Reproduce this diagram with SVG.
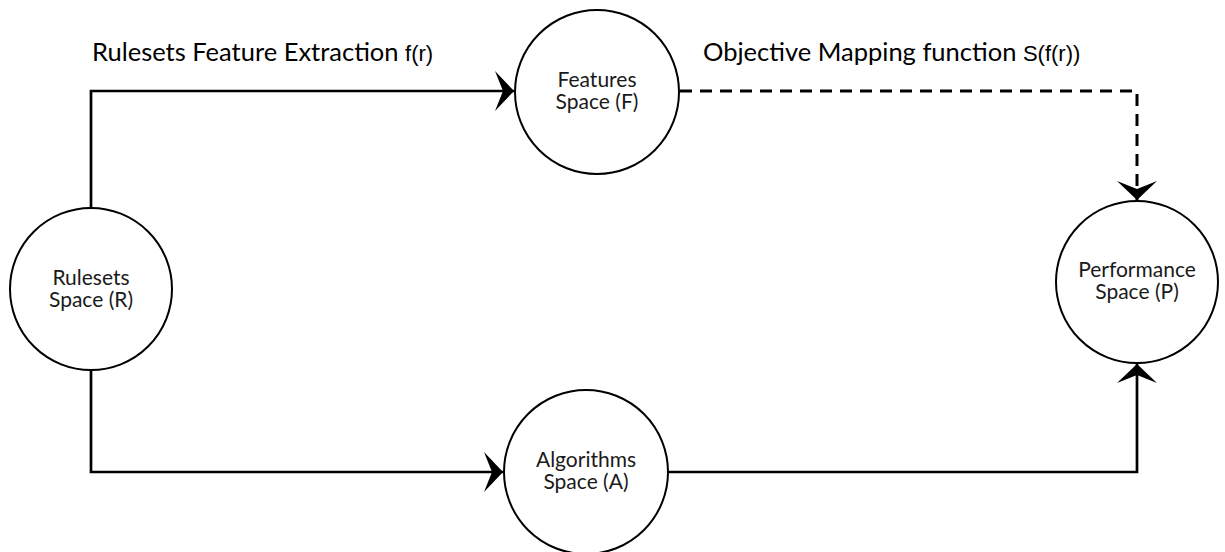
<svg xmlns="http://www.w3.org/2000/svg" width="1225" height="552" viewBox="0 0 1225 552">
<style>
.node{fill:#fff;stroke:#000;stroke-width:2}
.lbl{font-family:Lato,"Liberation Sans",sans-serif;font-size:21px;fill:#1a1a1a;text-anchor:middle}
.edge{fill:none;stroke:#000;stroke-width:2.7}
.dash{stroke-dasharray:12 8;stroke-width:3}
.big{font-family:Lato,"Liberation Sans",sans-serif;font-size:25.5px;fill:#000}
.small{font-family:"Liberation Sans",Arial,sans-serif;font-size:22px}
</style>
<defs>
<marker id="arr" viewBox="0 0 19 40" refX="19" refY="20" markerWidth="19" markerHeight="40" markerUnits="userSpaceOnUse" orient="auto">
<path d="M0,0 L19,20 L0,40 L8,20 Z" fill="#000"/>
</marker>
</defs>
<rect width="1225" height="552" fill="#fff"/>
<g id="connectors">
<path class="edge" d="M91,208 V91 H514" marker-end="url(#arr)"/>
<path class="edge" d="M91,370 V472 H503" marker-end="url(#arr)"/>
<path class="edge" d="M669,472 H1137 V364" marker-end="url(#arr)"/>
<path class="edge dash" d="M680,91 H1137 V200" marker-end="url(#arr)"/>
</g>
<g id="label-fr"><text class="big" x="92" y="61">Rulesets Feature Extraction <tspan class="small">f(r)</tspan></text></g>
<g id="label-sfr"><text class="big" x="703" y="61">Objective Mapping function  <tspan class="small">S(f(r))</tspan></text></g>
<g id="node-R"><circle class="node" cx="91" cy="289" r="81"/><text class="lbl" x="91" y="285">Rulesets<tspan x="91" dy="22">Space (R)</tspan></text></g>
<g id="node-F"><circle class="node" cx="597" cy="92" r="82"/><text class="lbl" x="597" y="87">Features<tspan x="597" dy="22">Space (F)</tspan></text></g>
<g id="node-P"><circle class="node" cx="1137" cy="282" r="81"/><text class="lbl" x="1137" y="277">Performance<tspan x="1137" dy="22">Space (P)</tspan></text></g>
<g id="node-A"><circle class="node" cx="586" cy="472" r="82"/><text class="lbl" x="586" y="467">Algorithms<tspan x="586" dy="22">Space (A)</tspan></text></g>
</svg>
